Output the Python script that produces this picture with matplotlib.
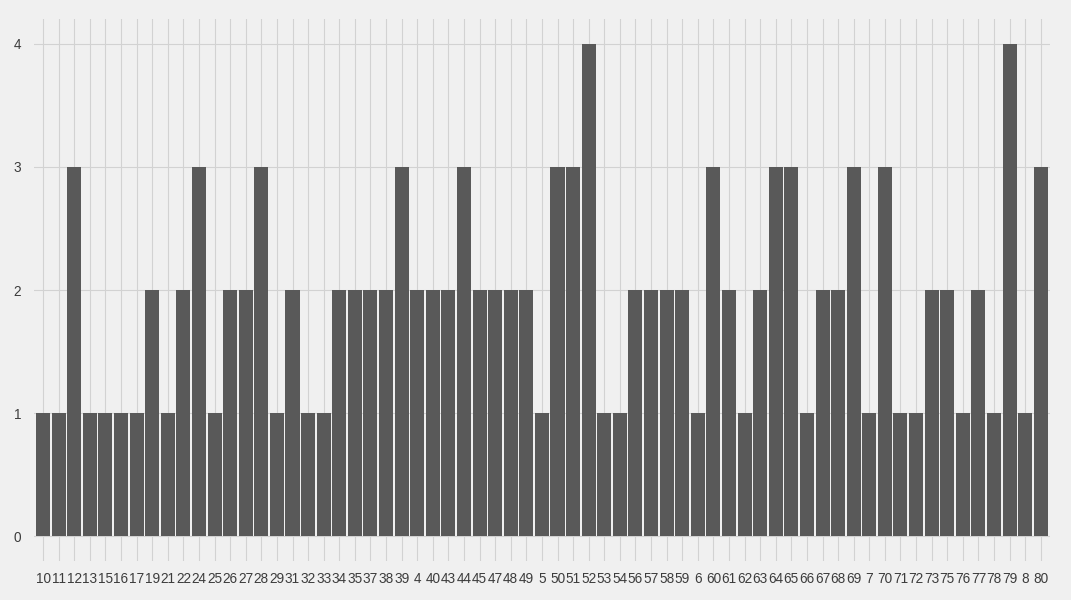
import matplotlib
matplotlib.use("Agg")
from matplotlib import pyplot as plt

labels = ["10", "11", "12", "13", "15", "16", "17", "19", "21", "22",
          "24", "25", "26", "27", "28", "29", "31", "32", "33", "34",
          "35", "37", "38", "39", "4", "40", "43", "44", "45", "47",
          "48", "49", "5", "50", "51", "52", "53", "54", "56", "57",
          "58", "59", "6", "60", "61", "62", "63", "64", "65", "66",
          "67", "68", "69", "7", "70", "71", "72", "73", "75", "76",
          "77", "78", "79", "8", "80"]
counts = [1, 1, 3, 1, 1, 1, 1, 2, 1, 2,
          3, 1, 2, 2, 3, 1, 2, 1, 1, 2,
          2, 2, 2, 3, 2, 2, 2, 3, 2, 2,
          2, 2, 1, 3, 3, 4, 1, 1, 2, 2,
          2, 2, 1, 3, 2, 1, 2, 3, 3, 1,
          2, 2, 3, 1, 3, 1, 1, 2, 2, 1,
          2, 1, 4, 1, 3]

plt.rcParams['font.family'] = ['Liberation Sans', 'DejaVu Sans']

bg = '#F0F0F0'
fig = plt.figure(figsize=(10.71, 6.0), dpi=100, facecolor=bg)
ax = fig.add_axes([0.0315, 0.065, 0.949, 0.9033])
ax.set_facecolor(bg)

x = list(range(len(labels)))
ax.bar(x, counts, width=0.9, color='#595959', zorder=2)

ax.set_xlim(-0.6, len(labels) - 1 + 0.6)
ax.set_ylim(-0.2, 4.2)
ax.set_xticks(x)
ax.set_xticklabels(labels)
ax.set_yticks([0, 1, 2, 3, 4])

ax.grid(True, color='#D2D2D2', linewidth=0.8, zorder=0)
ax.set_axisbelow(True)
for s in ax.spines.values():
    s.set_visible(False)
ax.tick_params(axis='both', length=0, colors='#3C3C3C', labelsize=9.8)
ax.tick_params(axis='x', pad=8)
ax.tick_params(axis='y', pad=9)

fig.savefig("out.png", dpi=100, facecolor=bg)
